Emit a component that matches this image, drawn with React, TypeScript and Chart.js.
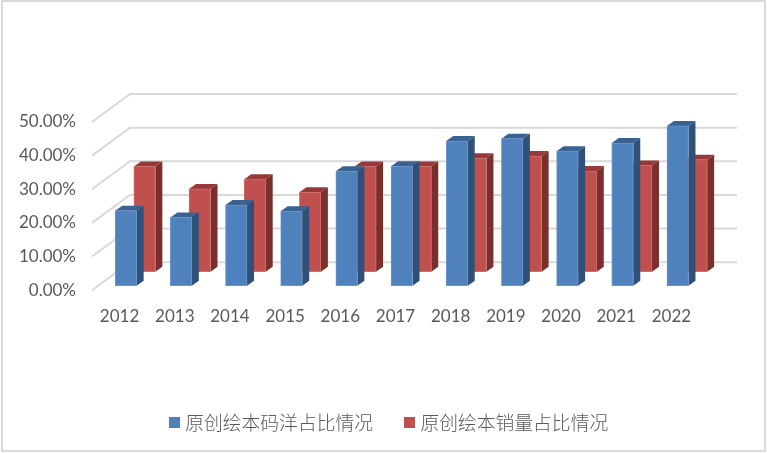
import React, { useEffect, useRef } from "react";
import { Chart, registerables } from "chart.js";

Chart.register(...registerables);

const years = ["2012", "2013", "2014", "2015", "2016", "2017", "2018", "2019", "2020", "2021", "2022"];
const codeShare = [22.3, 20.3, 24.0, 22.1, 34.0, 35.5, 43.0, 43.7, 40.0, 42.4, 47.5];
const salesShare = [31.3, 24.6, 27.5, 23.6, 31.3, 31.3, 33.7, 34.4, 29.9, 31.6, 33.3];
const seriesNames = ["原创绘本码洋占比情况", "原创绘本销量占比情况"];

const FONT = "Lato, 'Noto Sans CJK SC', sans-serif";
const TEXT = "#595959";
const GRID = "#D9D9D9";
const palette = [
  { front: "#4F81BD", edge: "#6A96CE", side: "#2F5179", top: "#3A6291", dx: 6.3, dy: -4.5 },
  { front: "#C0504D", edge: "#CC6E6B", side: "#7A2F2D", top: "#97393A", dx: 25, dy: -18.5 },
];
const DEPTH_X = 7;
const DEPTH_Y = -5;
const WALL_X = 38;
const WALL_Y = -28;

function swatch(color: string) {
  const c = document.createElement("canvas");
  c.width = 11;
  c.height = 11;
  const g = c.getContext("2d") as CanvasRenderingContext2D;
  g.fillStyle = color;
  g.fillRect(0, 0, 11, 11);
  return c;
}

const depthPlugin = {
  id: "depth",
  beforeDatasetsDraw(chart: any) {
    const { ctx, chartArea, scales } = chart;
    ctx.save();
    ctx.strokeStyle = GRID;
    ctx.lineWidth = 2;
    for (const tick of scales.y.ticks) {
      const y = scales.y.getPixelForValue(tick.value);
      ctx.beginPath();
      ctx.moveTo(chartArea.left, y);
      ctx.lineTo(chartArea.left + WALL_X, y + WALL_Y);
      ctx.lineTo(chartArea.right + WALL_X, y + WALL_Y);
      ctx.stroke();
    }
    ctx.restore();
  },
  beforeDatasetDraw(chart: any, args: any) {
    const { ctx } = chart;
    const style = palette[args.index];
    ctx.save();
    ctx.translate(style.dx, style.dy);
    for (const bar of args.meta.data) {
      const half = bar.width / 2;
      const right = bar.x + half;
      const left = bar.x - half;
      ctx.fillStyle = style.side;
      ctx.beginPath();
      ctx.moveTo(right, bar.y);
      ctx.lineTo(right + DEPTH_X, bar.y + DEPTH_Y);
      ctx.lineTo(right + DEPTH_X, bar.base + DEPTH_Y);
      ctx.lineTo(right, bar.base);
      ctx.closePath();
      ctx.fill();
      ctx.fillStyle = style.top;
      ctx.beginPath();
      ctx.moveTo(left, bar.y);
      ctx.lineTo(left + DEPTH_X, bar.y + DEPTH_Y);
      ctx.lineTo(right + DEPTH_X, bar.y + DEPTH_Y);
      ctx.lineTo(right, bar.y);
      ctx.closePath();
      ctx.fill();
    }
  },
  afterDatasetDraw(chart: any) {
    chart.ctx.restore();
  },
};

export default function App() {
  const ref = useRef<HTMLCanvasElement>(null);
  useEffect(() => {
    const chart = new Chart(ref.current as HTMLCanvasElement, {
      type: "bar",
      data: {
        labels: years,
        datasets: [codeShare, salesShare].map((data, i) => ({
          label: seriesNames[i],
          data,
          yAxisID: "y",
          backgroundColor: palette[i].front,
          borderColor: palette[i].edge,
          borderWidth: 1,
          borderSkipped: false,
          barThickness: 21.5,
          grouped: false,
          clip: false,
        })),
      } as any,
      plugins: [depthPlugin],
      options: {
        animation: false,
        responsive: false,
        layout: { padding: { left: 14, top: 122, right: 0, bottom: 11 } },
        scales: {
          x: {
            grid: { display: false, drawTicks: false },
            border: { display: false },
            afterFit: (s: any) => { s.height = 88; },
            ticks: { color: TEXT, font: { family: FONT, size: 17 }, padding: 16, maxRotation: 0 },
          },
          y: {
            min: 0,
            max: 50,
            grid: { display: false, drawTicks: false },
            border: { display: false },
            afterFit: (s: any) => { s.width = 78; },
            ticks: {
              stepSize: 10,
              color: TEXT,
              font: { family: FONT, size: 17 },
              padding: 16,
              callback: (v: any) => Number(v).toFixed(2) + "%",
            },
          },
          yR: {
            axis: "y",
            position: "right",
            min: 0,
            max: 50,
            grid: { display: false, drawTicks: false },
            border: { display: false },
            ticks: { display: false },
            afterFit: (s: any) => { s.width = 68; },
          },
        } as any,
        plugins: {
          tooltip: { enabled: false },
          legend: {
            position: "bottom",
            labels: {
              color: TEXT,
              font: { family: "'Noto Sans CJK SC', sans-serif", size: 18.8, weight: "300" },
              usePointStyle: true,
              pointStyleWidth: 3,
              boxHeight: 11,
              padding: 35,
              generateLabels: () =>
                seriesNames.map((text, i) => ({
                  text,
                  fillStyle: palette[i].front,
                  strokeStyle: palette[i].front,
                  lineWidth: 0,
                  fontColor: TEXT,
                  pointStyle: swatch(palette[i].front),
                  datasetIndex: i,
                })),
            },
          },
        },
      } as any,
    });
    return () => chart.destroy();
  }, []);
  return (
    <div style={{ position: "absolute", left: 0, top: 0, width: 767, height: 453, background: "#fff" }}>
      <canvas ref={ref} width={767} height={453} style={{ display: "block", width: 767, height: 453 }} />
      <div
        style={{
          position: "absolute",
          left: 1,
          top: 0,
          width: 765,
          height: 452,
          boxSizing: "border-box",
          border: `2px solid ${GRID}`,
          pointerEvents: "none",
        }}
      />
    </div>
  );
}
